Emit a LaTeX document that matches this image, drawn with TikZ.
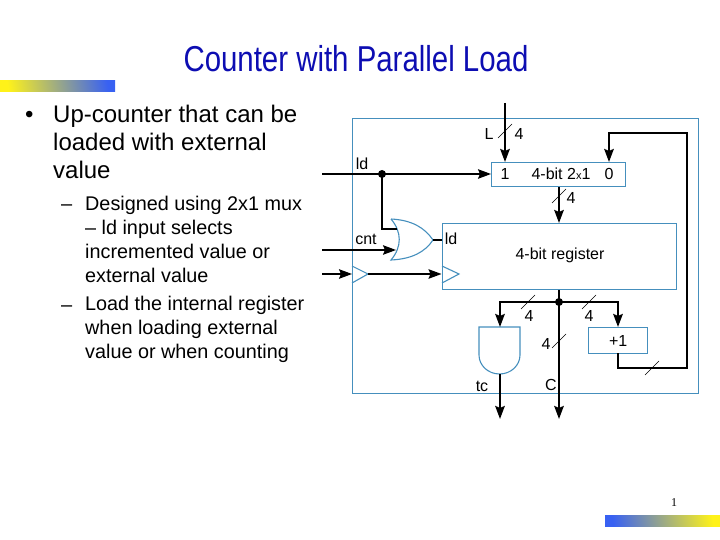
\documentclass[tikz,border=0pt]{standalone}
\usepackage{fontspec}
\usepackage{graphicx}
\setmainfont{Liberation Sans}
\newfontfamily\pagefont{Liberation Serif}
\usetikzlibrary{arrows.meta}
\definecolor{titleblue}{rgb}{0.05,0.05,0.70}
\definecolor{boxblue}{rgb}{0.27,0.56,0.74}
\definecolor{barblue}{rgb}{0.22,0.38,0.95}
\definecolor{baryellow}{rgb}{1.00,0.95,0.10}
\tikzset{
    wire/.style={black, line width=1.5pt, -{Stealth[length=13pt,width=9.5pt,inset=2pt]}},
    bus/.style={black, line width=2.2pt, -{Stealth[length=13pt,width=9.5pt,inset=2pt]}},
    busline/.style={black, line width=2.2pt},
    blockbox/.style={draw=boxblue, line width=1.4pt, inner sep=0pt},
    gateline/.style={draw=boxblue, line width=1.1pt},
    lbl/.style={font=\fontsize{16}{18}\selectfont, inner sep=0pt},
    levelone/.style={font=\fontsize{24}{28}\selectfont, anchor=north west, align=left, inner sep=0pt},
    leveltwo/.style={font=\fontsize{19.8}{24}\selectfont, anchor=north west, align=left, inner sep=0pt},
    joindot/.style={circle, fill=black, inner sep=0pt, minimum size=8pt},
    decobar/.style={minimum width=115pt, minimum height=11pt, inner sep=0pt, anchor=north west}
}
\newcommand{\drawbusslash}[2]{
    % Thin slash across a bus
    \draw[black, line width=0.6pt] (#1-7,#2+7) -- (#1+7,#2-7);
}
\begin{document}
\begin{tikzpicture}[x=1pt, y=-1pt]
    \useasboundingbox (0,0) rectangle (720,540);

    % Decoration bars
    \node[decobar, left color=baryellow, right color=barblue, shading angle=100] (topbar) at (0,80) {};
    \node[decobar, left color=barblue, right color=baryellow, shading angle=100] (bottombar) at (605,515) {};
    \node[font=\pagefont\fontsize{12}{14}\selectfont, inner sep=0pt] (pagenum) at (674,503) {1};

    % Title
    \node[text=titleblue, font=\fontsize{36}{38}\selectfont, inner sep=0pt] (title) at (356,58.5) {\scalebox{0.817}[1]{Counter with Parallel Load}};

    % Bullet text
    \node[font=\fontsize{24}{28}\selectfont, anchor=base west, inner sep=0pt] (bulletone) at (25,123) {•};
    \node[levelone] (textone) at (53,105) {Up-counter that can be\\loaded with external\\value};
    \node[font=\fontsize{20}{24}\selectfont, anchor=base west, inner sep=0pt] (dashone) at (61,211) {–};
    \node[leveltwo] (texttwo) at (85,196.4) {Designed using 2x1 mux\\– ld input selects\\incremented value or\\external value};
    \node[font=\fontsize{20}{24}\selectfont, anchor=base west, inner sep=0pt] (dashtwo) at (61,311) {–};
    \node[leveltwo] (textthree) at (85,296) {Load the internal register\\when loading external\\value or when counting};

    % Outer box
    \node[blockbox, minimum width=346pt, minimum height=275pt, anchor=north west] (outer) at (352,118) {};

    % Blocks
    \node[blockbox, minimum width=134pt, minimum height=24pt, anchor=north west] (mux) at (491,162) {};
    \node[lbl] (muxone) at (505,174) {1};
    \node[lbl] (muxzero) at (609,174) {0};
    \node[lbl] (muxname) at (561,174) {4-bit 2{\fontsize{11}{12}\selectfont x}1};
    \node[blockbox, minimum width=234.5pt, minimum height=66pt, anchor=north west] (reg) at (441.5,223) {};
    \node[lbl] (regname) at (560,255) {4-bit register};
    \node[lbl] (regld) at (451,239) {ld};
    \node[blockbox, font=\fontsize{16}{18}\selectfont, minimum width=59pt, minimum height=26pt, anchor=north west] (inc) at (588,327) {+1};

    % OR gate
    \draw[gateline] (391,219) .. controls (412,220) and (425,228) .. (433,240)
        .. controls (425,252) and (412,259) .. (391,260)
        .. controls (402,247) and (402,232) .. (391,219);
    \coordinate (orout) at (433,240);
    \coordinate (orinone) at (397,229);
    \coordinate (orintwo) at (396,250);

    % AND gate
    \draw[gateline] (479,327) -- (520,327) -- (520,355)
        arc[start angle=0, end angle=180, x radius=20.5, y radius=19] -- cycle;
    \coordinate (andin) at (500,327);
    \coordinate (andout) at (500,374);

    % Clock triangles
    \draw[gateline] (352,266) -- (368,274) -- (352,283);
    \draw[gateline] (442,266) -- (459,274) -- (442,283);
    \coordinate (clkout) at (368,274);
    \coordinate (clkend) at (352,274);

    % Free ends
    \coordinate (ldin) at (322,174);
    \coordinate (cntin) at (322,250);
    \coordinate (clkin) at (322,274);
    \coordinate (loadin) at (505,103);
    \coordinate (tcout) at (500,419);
    \coordinate (cout) at (559,419);
    \coordinate (incin) at (618,327);
    \coordinate (incout) at (618,353);
    \coordinate (backone) at (687,368);
    \coordinate (backtwo) at (687,133);
    \coordinate (ldpos) at (382,174);
    \coordinate (buspos) at (559,302);

    % Control wires
    \draw[wire] (ldin) -- (mux.west |- ldin);
    \draw[black, line width=1.5pt] (ldpos) |- (orinone);
    \draw[wire] (cntin) -- (orintwo);
    \draw[wire] (clkin) -- (clkend);
    \draw[wire] (clkout) -- (reg.west |- clkout);
    \draw[black, line width=1.1pt] (orout) -- (reg.west |- orout);

    % Buses
    \draw[bus] (loadin) -- (loadin |- mux.north);
    \draw[bus] (mux.south -| buspos) -- (reg.north -| buspos);
    \draw[busline] (reg.south -| buspos) -- (buspos);
    \draw[bus] (buspos) -- (cout);
    \draw[bus] (buspos) -| (andin);
    \draw[bus] (buspos) -| (incin);
    \draw[bus] (andout) -- (tcout);
    \draw[bus] (incout) |- (backone) -- (backtwo) -| (muxzero |- mux.north);

    % Junctions
    \node[joindot] (ldjoin) at (ldpos) {};
    \node[joindot] (busjoin) at (buspos) {};

    % Bus slashes
    \foreach \x/\y in {505/131, 559/196, 528/302, 589/302, 559/341, 652/368}
    {\drawbusslash{\x}{\y}}

    % Labels
    \node[lbl] (loadname) at (489,134) {L};
    \node[lbl] (loadwidth) at (519,134) {4};
    \node[lbl] (ldname) at (362,164) {ld};
    \node[lbl] (cntname) at (366,239) {cnt};
    \node[lbl] (muxwidth) at (571,198) {4};
    \node[lbl] (leftwidth) at (529,316) {4};
    \node[lbl] (rightwidth) at (589,316) {4};
    \node[lbl] (midwidth) at (546,344) {4};
    \node[lbl] (tcname) at (482,386) {tc};
    \node[lbl] (cname) at (551,385) {C};
\end{tikzpicture}
\end{document}
